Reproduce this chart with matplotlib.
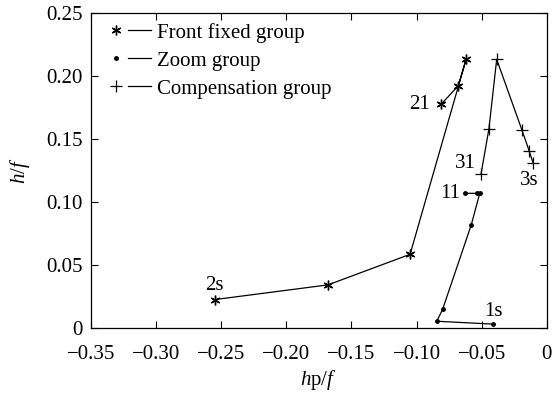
import matplotlib
matplotlib.use("Agg")
import matplotlib.pyplot as plt
from matplotlib.lines import Line2D
from matplotlib.legend_handler import HandlerTuple

plt.rcParams['font.family'] = ['Liberation Serif', 'DejaVu Serif']
plt.rcParams['mathtext.fontset'] = 'custom'
plt.rcParams['mathtext.rm'] = 'Liberation Serif'
plt.rcParams['mathtext.it'] = 'Liberation Serif:italic'

# Data
front_x = [-0.255, -0.168, -0.105, -0.062, -0.068, -0.081]
front_y = [0.0225, 0.0342, 0.0585, 0.2135, 0.1925, 0.178]
zoom_x = [-0.0415, -0.0845, -0.080, -0.058, -0.0515, -0.054, -0.0625]
zoom_y = [0.003, 0.0053, 0.0148, 0.082, 0.107, 0.107, 0.107]
comp_x = [-0.0105, -0.0135, -0.019, -0.0385, -0.0445, -0.0505]
comp_y = [0.131, 0.1405, 0.157, 0.2135, 0.158, 0.1225]
series_names = ["Front fixed group", "Zoom group", "Compensation group"]
point_labels = ["2s", "21", "1s", "11", "3s", "31"]

fig = plt.figure(figsize=(5.58, 3.96), dpi=100)
ax = fig.add_axes([0.163, 0.172, 0.817, 0.794])

ast = (6, 2, 0)
lw = 0.9
ax.plot(front_x, front_y, color='black', lw=lw, marker=ast, ms=7, mew=1.0)
ax.plot(zoom_x, zoom_y, color='black', lw=lw, marker='.', ms=5)
ax.plot(comp_x, comp_y, color='black', lw=lw, marker='+', ms=9, mew=0.9)

fs = 15
ax.text(front_x[0] + 0.0, front_y[0] + 0.004, point_labels[0], fontsize=fs, ha='center', va='bottom')
ax.text(front_x[-1] - 0.009, front_y[-1], point_labels[1], fontsize=fs, ha='right', va='center')
ax.text(zoom_x[0] + 0.0005, zoom_y[0] + 0.0025, point_labels[2], fontsize=fs, ha='center', va='bottom')
ax.text(zoom_x[-1] - 0.004, zoom_y[-1], point_labels[3], fontsize=fs, ha='right', va='center')
ax.text(comp_x[0] - 0.003, comp_y[0] - 0.006, point_labels[4], fontsize=fs, ha='center', va='top')
ax.text(comp_x[-1] - 0.004, comp_y[-1] + 0.008, point_labels[5], fontsize=fs, ha='right', va='center')

ax.set_xlim(-0.35, 0)
ax.set_ylim(0, 0.25)
xt = [-0.35, -0.30, -0.25, -0.20, -0.15, -0.10, -0.05, 0]
ax.set_xticks(xt)
ax.set_xticklabels(["\u22120.35", "\u22120.30", "\u22120.25", "\u22120.20", "\u22120.15", "\u22120.10", "\u22120.05", "0"])
yt = [0, 0.05, 0.10, 0.15, 0.20, 0.25]
ax.set_yticks(yt)
ax.set_yticklabels(["0", "0.05", "0.10", "0.15", "0.20", "0.25"])
ax.tick_params(direction='in', top=True, right=True, labelsize=fs, length=5, width=0.8)
ax.tick_params(axis='x', pad=12)
ax.tick_params(axis='y', pad=6)
for s in ax.spines.values():
    s.set_linewidth(0.9)

ax.set_xlabel(r"$h\mathrm{p}/f$", fontsize=fs, labelpad=3)
ax.set_ylabel(r"$h/f$", fontsize=fs, labelpad=10)

handles = []
for m, ms, mew in [(ast, 7, 1.0), ('.', 5, 1.0), ('+', 8, 0.9)]:
    mk = Line2D([], [], color='black', marker=m, ms=ms, mew=mew, linestyle='none')
    ln = Line2D([], [], color='black', lw=lw)
    handles.append((mk, ln))
leg = ax.legend(handles, series_names, loc='upper left', frameon=False, fontsize=fs,
                handler_map={tuple: HandlerTuple(ndivide=None, pad=0.0)},
                handlelength=2.2, handletextpad=0.3, labelspacing=0.4,
                borderaxespad=0.05, bbox_to_anchor=(0.01, 1.0))

fig.savefig("out.png", dpi=100)
